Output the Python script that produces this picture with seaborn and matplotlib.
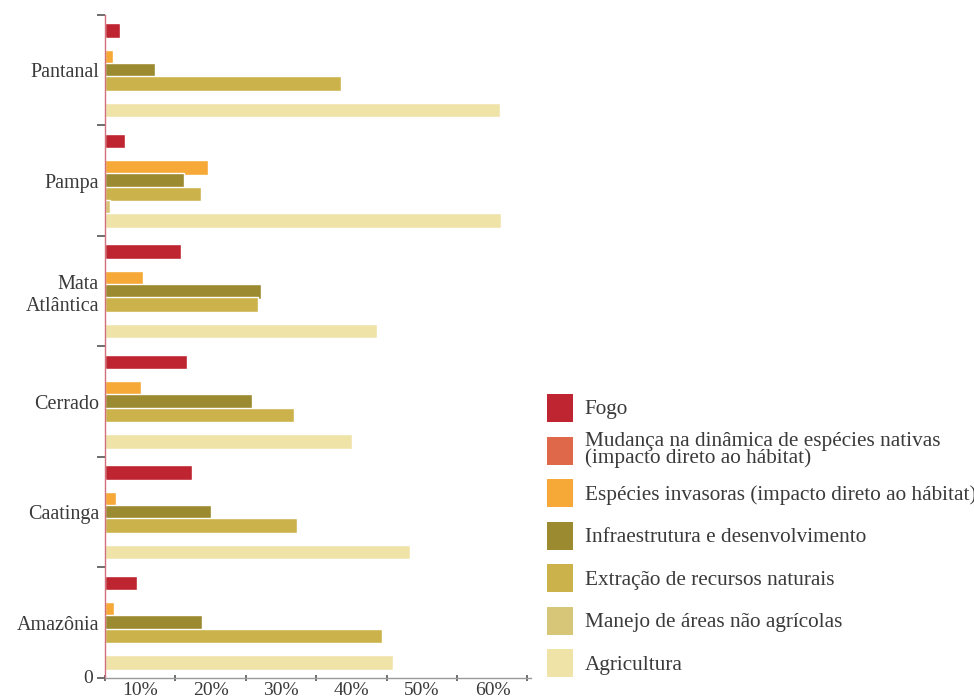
import pandas as pd
import seaborn as sns
import matplotlib.pyplot as plt
import matplotlib.patches as mpatches
import matplotlib.transforms as mtransforms
from matplotlib.legend_handler import HandlerPatch

# dados (% de espécies ameaçadas por tipo de ameaça)
biomas = ['Pantanal', 'Pampa', 'Mata\nAtlântica', 'Cerrado', 'Caatinga', 'Amazônia']
ameacas = ['Fogo',
           'Mudança na dinâmica de espécies nativas\n(impacto direto ao hábitat)',
           'Espécies invasoras (impacto direto ao hábitat)',
           'Infraestrutura e desenvolvimento',
           'Extração de recursos naturais',
           'Manejo de áreas não agrícolas',
           'Agricultura']
fogo = [2.2, 2.9, 10.9, 11.7, 12.4, 4.6]
mudanca = [0, 0, 0, 0, 0, 0]
invasoras = [1.2, 14.7, 5.5, 5.2, 1.6, 1.3]
infraestrutura = [7.2, 11.3, 22.2, 20.9, 15.1, 13.8]
extracao = [33.6, 13.7, 21.8, 26.9, 27.3, 39.3]
manejo = [0, 0.8, 0, 0, 0, 0]
agricultura = [56.1, 56.2, 38.6, 35.1, 43.4, 40.9]
cores = ['#BE2530', '#E0684A', '#F6A936', '#9C8A30', '#CCB24B', '#D7C677', '#F0E3A8']

series = [fogo, mudanca, invasoras, infraestrutura, extracao, manejo, agricultura]
linhas = []
for nome, vals in zip(ameacas, series):
    for b, v in zip(biomas, vals):
        linhas.append({'bioma': b, 'ameaca': nome, 'valor': v})
df = pd.DataFrame(linhas)

sns.set_theme(style='white')
plt.rcParams['font.family'] = ['Liberation Serif', 'DejaVu Serif']
texto = '#3a3a3a'

fig = plt.figure(figsize=(9.74, 6.96), dpi=100)
ax = fig.add_axes([0.1073, 0.0259, 0.4379, 0.9526])

sns.barplot(data=df, x='valor', y='bioma', hue='ameaca', order=biomas, hue_order=ameacas,
            palette=cores, orient='h', width=0.84, gap=0, dodge=True, legend=False,
            saturation=1, ax=ax, errorbar=None)

# barras ligeiramente mais grossas (se sobrepõem um pouco no original)
for p in ax.patches:
    h = p.get_height()
    p.set_y(p.get_y() - h * 0.06)
    p.set_height(h * 1.12)

ax.set_xlim(0, 60.5)
ax.set_ylim(5.5, -0.5)
ax.set_xlabel('')
ax.set_ylabel('')

# marcas de separação dos grupos e rótulos centrados
ax.set_yticks([i - 0.5 for i in range(len(biomas) + 1)])
ax.set_yticklabels([])
ax.set_yticks(range(len(biomas)), minor=True)
ax.set_yticklabels(biomas, minor=True, fontsize=14.5, color=texto)
ax.tick_params(axis='y', which='major', left=True, length=6, width=1.2, color='#555555', direction='out')
ax.tick_params(axis='y', which='minor', left=True, length=0, pad=4)

ax.set_xticks([0, 10, 20, 30, 40, 50, 60])
ax.set_xticklabels(['0', '10%', '20%', '30%', '40%', '50%', '60%'], fontsize=14, color=texto)
ax.tick_params(axis='x', bottom=True, length=4, width=1.2, color='#555555', direction='inout', pad=1)
# rótulos deslocados para o meio dos intervalos, como no original
for i, lab in enumerate(ax.get_xticklabels()):
    if i == 0:
        off = mtransforms.ScaledTranslation(-0.16, 0.12, fig.dpi_scale_trans)
    else:
        off = mtransforms.ScaledTranslation(-0.35, 0, fig.dpi_scale_trans)
    lab.set_transform(lab.get_transform() + off)

for s in ['top', 'right']:
    ax.spines[s].set_visible(False)
ax.spines['left'].set_color('#D2707A')
ax.spines['left'].set_linewidth(1.0)
ax.spines['bottom'].set_color('#9a9a9a')
ax.spines['bottom'].set_linewidth(1.0)


# quadrado da legenda menor que a altura da entrada
def quadrado(legend, orig_handle, xdescent, ydescent, width, height, fontsize):
    h = 28 * 72 / fig.dpi
    return mpatches.Rectangle((-xdescent, -ydescent + (height - h) / 2), width, h)


handles = [mpatches.Patch(facecolor=c, edgecolor='none', label=n) for c, n in zip(cores, ameacas)]
leg = fig.legend(handles=handles, loc='upper left', bbox_to_anchor=(0.5616, 0.440),
                 frameon=False, fontsize=15.3, handlelength=1.22, handleheight=2.24,
                 handletextpad=0.56, labelspacing=0.30, borderaxespad=0, borderpad=0,
                 handler_map={mpatches.Patch: HandlerPatch(patch_func=quadrado)})
for t in leg.get_texts():
    t.set_color(texto)
    t.set_linespacing(0.8)

fig.savefig('out.png', dpi=100, facecolor='white')
